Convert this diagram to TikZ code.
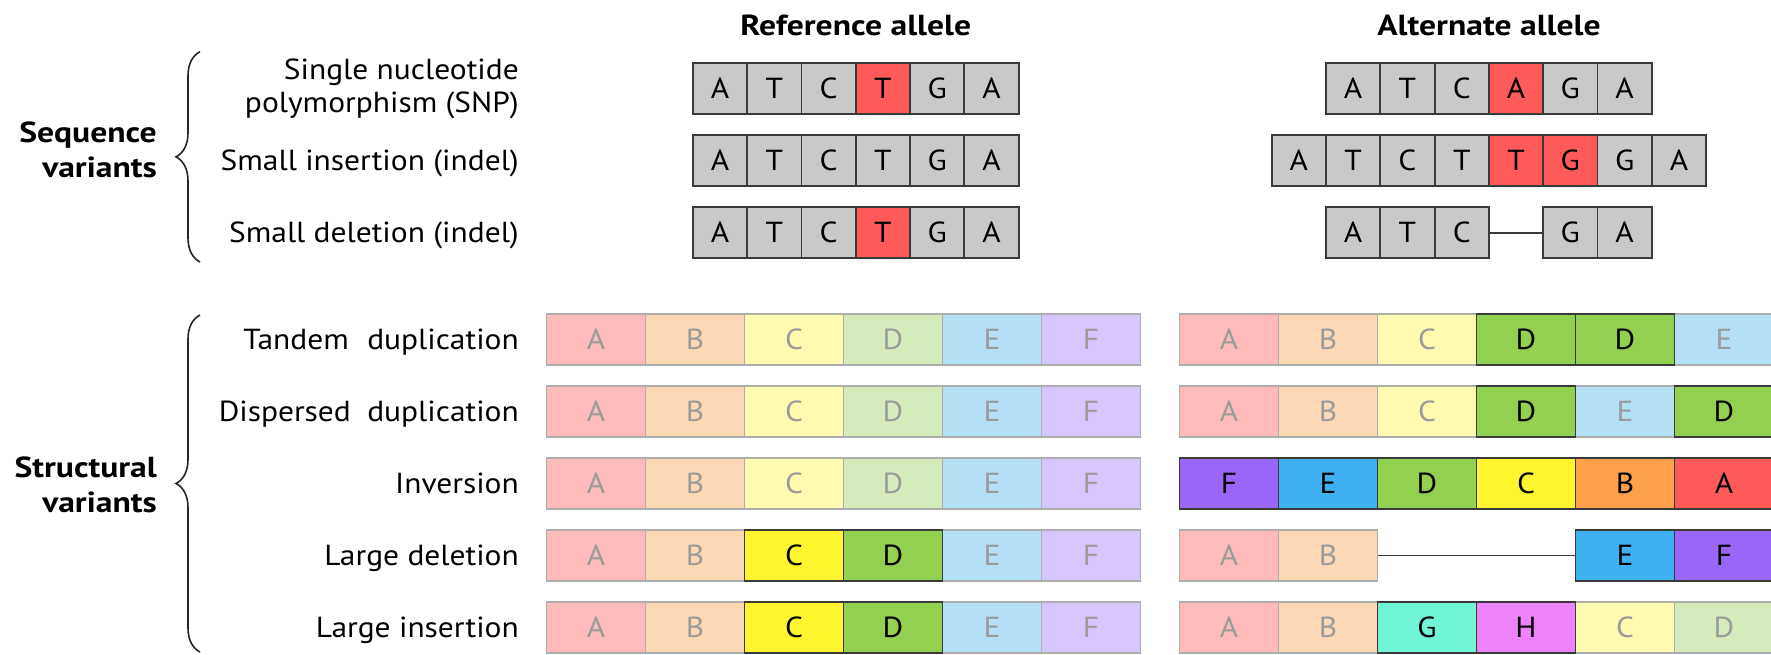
\documentclass[tikz,border=0pt]{standalone}
\usepackage{fontspec}
\setmainfont{PT Sans}[FakeStretch=1.085, BoldFeatures={FakeStretch=1.16}]
\usetikzlibrary{decorations.pathreplacing}
\definecolor{seqgray}{HTML}{C9C9C9}
\definecolor{seqline}{HTML}{3A3A3A}
\definecolor{hired}{HTML}{FF5A5A}
\definecolor{fadeline}{HTML}{ADADAD}
\definecolor{fadetext}{HTML}{9B9B9B}
\definecolor{cfA}{HTML}{FFBBBC}
\definecolor{cfB}{HTML}{FDD8B5}
\definecolor{cfC}{HTML}{FEFBB0}
\definecolor{cfD}{HTML}{D5EBBB}
\definecolor{cfE}{HTML}{B4E0F6}
\definecolor{cfF}{HTML}{D7C5FD}
\definecolor{cbA}{HTML}{FF5A5A}
\definecolor{cbB}{HTML}{FFA04A}
\definecolor{cbC}{HTML}{FFF52E}
\definecolor{cbD}{HTML}{92D050}
\definecolor{cbE}{HTML}{40B1F0}
\definecolor{cbF}{HTML}{9966FA}
\definecolor{cbG}{HTML}{70F5D6}
\definecolor{cbH}{HTML}{EE82F8}
\newcommand\cellrow[5]{\foreach \k/\lab/\sty in {#5} {\node[\sty] (#1\k) at ({#2+(\k-1)*#4}, #3) {\lab};}}
\begin{document}
\begin{tikzpicture}[x=1pt,y=-1pt,
  cellbase/.style={draw, line width=1.8pt, inner sep=0pt, outer sep=0pt, anchor=north west,
    minimum height=51pt, text height=20.3pt, text depth=0pt, font=\fontsize{29}{29}\selectfont},
  seqcell/.style={cellbase, minimum width=54.3pt, draw=seqline},
  sg/.style={seqcell, fill=seqgray},
  sr/.style={seqcell, fill=hired},
  scell/.style={cellbase, minimum width=99pt},
  fA/.style={scell, fill=cfA, draw=fadeline, text=fadetext},
  fB/.style={scell, fill=cfB, draw=fadeline, text=fadetext},
  fC/.style={scell, fill=cfC, draw=fadeline, text=fadetext},
  fD/.style={scell, fill=cfD, draw=fadeline, text=fadetext},
  fE/.style={scell, fill=cfE, draw=fadeline, text=fadetext},
  fF/.style={scell, fill=cfF, draw=fadeline, text=fadetext},
  bA/.style={scell, fill=cbA, draw=seqline},
  bB/.style={scell, fill=cbB, draw=seqline},
  bC/.style={scell, fill=cbC, draw=seqline},
  bD/.style={scell, fill=cbD, draw=seqline},
  bE/.style={scell, fill=cbE, draw=seqline},
  bF/.style={scell, fill=cbF, draw=seqline},
  bG/.style={scell, fill=cbG, draw=seqline},
  bH/.style={scell, fill=cbH, draw=seqline},
  lab/.style={inner sep=0pt, font=\fontsize{29}{33.5}\selectfont, align=right},
  head/.style={inner sep=0pt, font=\bfseries\fontsize{29}{35.5}\selectfont, align=right},
  gap/.style={draw=seqline, line width=1.8pt},
  brc/.style={draw=black!85, line width=1.6pt, decorate, decoration={brace, amplitude=24pt}}
]
\clip (0,0) rectangle (1771,654);
\fill[white] (0,0) rectangle (1771,654);

% titles
\node[head, anchor=base] (tref) at (855.8,35) {Reference allele};
\node[head, anchor=base] (talt) at (1489,35) {Alternate allele};

% group labels and braces
\node[head, anchor=east] (gseq) at (157,150) {Sequence\\variants};
\node[head, anchor=east] (gstr) at (157,485) {Structural\\variants};
\coordinate (bs1) at (200,262);
\coordinate (bs2) at (200,51.7);
\coordinate (bt1) at (200,652);
\coordinate (bt2) at (200,315);
\draw[brc] (bs1) -- (bs2);
\draw[brc] (bt1) -- (bt2);

% row labels
\node[lab, anchor=east] (l1) at (519,88.8) {Single nucleotide\\polymorphism (SNP)};
\node[lab, anchor=base east] (l2) at (519,170.8) {Small insertion (indel)};
\node[lab, anchor=base east] (l3) at (519,242.8) {Small deletion (indel)};
\node[lab, anchor=base east] (l4) at (519,349.5) {Tandem\hspace{10pt} duplication};
\node[lab, anchor=base east] (l5) at (519,421.5) {Dispersed\hspace{8pt} duplication};
\node[lab, anchor=base east] (l6) at (519,493.5) {Inversion};
\node[lab, anchor=base east] (l7) at (519,565.5) {Large deletion};
\node[lab, anchor=base east] (l8) at (519,637.5) {Large insertion};

% sequence variants: reference
\cellrow{sr1c}{692.8}{63.3}{54.3}{1/A/sg,2/T/sg,3/C/sg,4/T/sr,5/G/sg,6/A/sg}
\cellrow{sr2c}{692.8}{135.3}{54.3}{1/A/sg,2/T/sg,3/C/sg,4/T/sg,5/G/sg,6/A/sg}
\cellrow{sr3c}{692.8}{207.3}{54.3}{1/A/sg,2/T/sg,3/C/sg,4/T/sr,5/G/sg,6/A/sg}
% sequence variants: alternate
\cellrow{sa1c}{1326}{63.3}{54.3}{1/A/sg,2/T/sg,3/C/sg,4/A/sr,5/G/sg,6/A/sg}
\cellrow{sa2c}{1271.7}{135.3}{54.3}{1/A/sg,2/T/sg,3/C/sg,4/T/sg,5/T/sr,6/G/sr,7/G/sg,8/A/sg}
\cellrow{sa3c}{1326}{207.3}{54.3}{1/A/sg,2/T/sg,3/C/sg,5/G/sg,6/A/sg}
\draw[gap] (sa3c3.east) -- (sa3c5.west);

% structural variants: reference
\cellrow{tr1c}{546.5}{314}{99}{1/A/fA,2/B/fB,3/C/fC,4/D/fD,5/E/fE,6/F/fF}
\cellrow{tr2c}{546.5}{386}{99}{1/A/fA,2/B/fB,3/C/fC,4/D/fD,5/E/fE,6/F/fF}
\cellrow{tr3c}{546.5}{458}{99}{1/A/fA,2/B/fB,3/C/fC,4/D/fD,5/E/fE,6/F/fF}
\cellrow{tr4c}{546.5}{530}{99}{1/A/fA,2/B/fB,5/E/fE,6/F/fF}
\cellrow{tr4c}{546.5}{530}{99}{3/C/bC,4/D/bD}
\cellrow{tr5c}{546.5}{602}{99}{1/A/fA,2/B/fB,5/E/fE,6/F/fF}
\cellrow{tr5c}{546.5}{602}{99}{3/C/bC,4/D/bD}

% structural variants: alternate
\cellrow{ta1c}{1179.5}{314}{99}{1/A/fA,2/B/fB,3/C/fC,6/E/fE}
\cellrow{ta1c}{1179.5}{314}{99}{4/D/bD,5/D/bD}
\cellrow{ta2c}{1179.5}{386}{99}{1/A/fA,2/B/fB,3/C/fC,5/E/fE}
\cellrow{ta2c}{1179.5}{386}{99}{4/D/bD,6/D/bD}
\cellrow{ta3c}{1179.5}{458}{99}{1/F/bF,2/E/bE,3/D/bD,4/C/bC,5/B/bB,6/A/bA}
\cellrow{ta4c}{1179.5}{530}{99}{1/A/fA,2/B/fB}
\cellrow{ta4c}{1179.5}{530}{99}{5/E/bE,6/F/bF}
\draw[gap] (ta4c2.east) -- (ta4c5.west);
\cellrow{ta5c}{1179.5}{602}{99}{1/A/fA,2/B/fB,5/C/fC,6/D/fD}
\cellrow{ta5c}{1179.5}{602}{99}{3/G/bG,4/H/bH}
\end{tikzpicture}
\end{document}
